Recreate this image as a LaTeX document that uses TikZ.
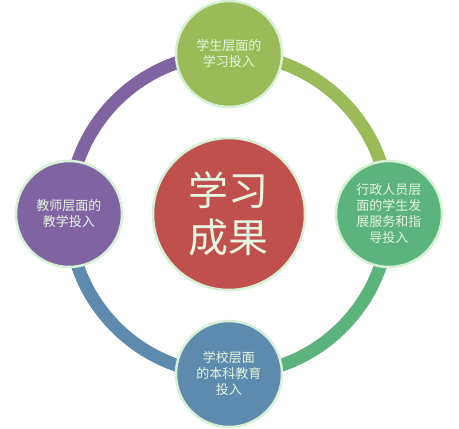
\documentclass[tikz,border=0pt]{standalone}
\usepackage{fontspec}
\newfontfamily\cjk{Noto Sans CJK SC}
\usetikzlibrary{positioning}

\definecolor{limec}{HTML}{9BBB59}
\definecolor{greenc}{HTML}{5CB37C}
\definecolor{bluec}{HTML}{5E8AAE}
\definecolor{purplec}{HTML}{8064A2}
\definecolor{redc}{HTML}{C0504D}
\definecolor{rimc}{HTML}{D6F0D6}
\definecolor{inkc}{HTML}{E6F6E0}

\begin{document}
\begin{tikzpicture}[semithick]

    \tikzstyle{ring} = [line width=13pt]
    \tikzstyle{bubble} = [circle, minimum size=106pt, inner sep=0pt, draw=rimc, line width=2.5pt, text=inkc, align=center, font=\cjk\fontsize{13pt}{16pt}\selectfont]
    \tikzstyle{hub} = [circle, minimum size=152pt, inner sep=0pt, draw=rimc, line width=2.5pt, fill=redc, text=inkc, align=center, font=\cjk\fontsize{40pt}{47pt}\selectfont]

    \useasboundingbox (-229pt,-215pt) rectangle (230pt,214pt);

    \coordinate (n) at (90:160pt);
    \coordinate (e) at (0:160pt);
    \coordinate (s) at (270:160pt);
    \coordinate (w) at (180:160pt);

    \draw[ring, draw=limec]   (n) arc[start angle=90,  end angle=0,   radius=160pt];
    \draw[ring, draw=greenc]  (e) arc[start angle=0,   end angle=-90, radius=160pt];
    \draw[ring, draw=bluec]   (s) arc[start angle=270, end angle=180, radius=160pt];
    \draw[ring, draw=purplec] (w) arc[start angle=180, end angle=90,  radius=160pt];

    \node (hub)     [hub]                  at (0,0) {学习\\成果};

    \node (student) [bubble, fill=limec]   at (n)   {学生层面的\\学习投入};
    \node (admin)   [bubble, fill=greenc]  at (e)   {行政人员层\\面的学生发\\展服务和指\\导投入};
    \node (school)  [bubble, fill=bluec]   at (s)   {学校层面\\的本科教育\\投入};
    \node (teacher) [bubble, fill=purplec] at (w)   {教师层面的\\教学投入};

\end{tikzpicture}
\end{document}
